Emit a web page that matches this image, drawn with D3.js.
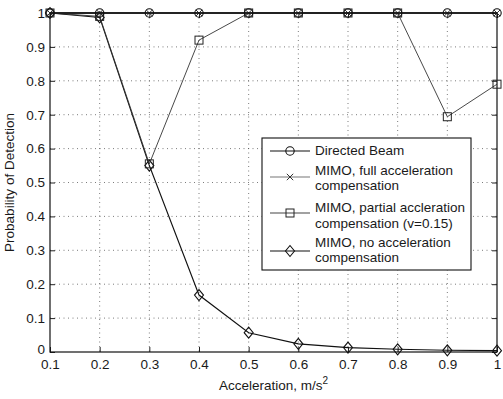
<!DOCTYPE html>
<html><head><meta charset="utf-8">
<script src="https://cdn.jsdelivr.net/npm/d3@7"></script>
<style>
body{margin:0;background:#fff;}
text{font-family:"Liberation Sans",Arial,Helvetica,sans-serif;fill:#1a1a1a;}
</style></head>
<body>
<svg id="chart" width="503" height="399"></svg>
<script>
const accel = [0.1,0.2,0.3,0.4,0.5,0.6,0.7,0.8,0.9,1.0];
const directedBeam = [1,1,1,1,1,1,1,1,1,1];
const mimoFull = [1,1,1,1,1,1,1,1,1,1];
const mimoPartial = [1,0.99,0.555,0.92,1,1,1,1,0.694,0.79];
const mimoNone = [1,0.987,0.55,0.168,0.057,0.024,0.013,0.008,0.005,0.004];
const xTicks = [0.1,0.2,0.3,0.4,0.5,0.6,0.7,0.8,0.9,1];
const yTicks = [0,0.1,0.2,0.3,0.4,0.5,0.6,0.7,0.8,0.9,1];
const legendLabels = [
  ["Directed Beam"],
  ["MIMO, full acceleration","compensation"],
  ["MIMO, partial accleration","compensation (v=0.15)"],
  ["MIMO, no acceleration","compensation"]
];

const svg = d3.select("#chart");
const L=50,R=497,T=13,B=352;
const FS=13.5;
const x = d3.scaleLinear().domain([0.1,1]).range([L,R]);
const y = d3.scaleLinear().domain([0,1]).range([B,T]);

// grid
const g = svg.append("g");
g.selectAll(".vg").data(xTicks.slice(1,-1)).enter().append("line")
  .attr("x1",d=>x(d)).attr("x2",d=>x(d)).attr("y1",T).attr("y2",B)
  .attr("stroke","#444").attr("stroke-width",0.7).attr("stroke-dasharray","1,3.5");
g.selectAll(".hg").data(yTicks.slice(1,-1)).enter().append("line")
  .attr("x1",L).attr("x2",R).attr("y1",d=>y(d)).attr("y2",d=>y(d))
  .attr("stroke","#444").attr("stroke-width",0.7).attr("stroke-dasharray","1,3.5");

// axes
const xAxis = d3.axisBottom(x).tickValues(xTicks).tickSizeInner(-5).tickSizeOuter(0).tickPadding(7).tickFormat(d=>d===1?"1":d3.format(".1f")(d));
const yAxis = d3.axisLeft(y).tickValues(yTicks).tickSizeInner(-5).tickSizeOuter(0).tickPadding(5).tickFormat(d=>(d===0||d===1)?String(d):d3.format(".1f")(d));
const xa = svg.append("g").attr("transform",`translate(0,${B})`).call(xAxis);
const ya = svg.append("g").attr("transform",`translate(${L},0)`).call(yAxis);
const xaTop = svg.append("g").attr("transform",`translate(0,${T})`).call(d3.axisTop(x).tickValues(xTicks).tickSizeInner(-5).tickSizeOuter(0).tickFormat(""));
const yaR = svg.append("g").attr("transform",`translate(${R},0)`).call(d3.axisRight(y).tickValues(yTicks).tickSizeInner(-5).tickSizeOuter(0).tickFormat(""));
[xa,ya,xaTop,yaR].forEach(a=>{a.select(".domain").remove();a.selectAll("line").attr("stroke","#222");});
[xa,ya].forEach(a=>a.selectAll("text").attr("font-size",FS).style("font-family","'Liberation Sans',Arial,sans-serif").attr("fill","#1a1a1a"));
ya.selectAll(".tick").filter(d=>d===0).select("text").attr("dy","0.1em");
svg.append("rect").attr("x",L).attr("y",T).attr("width",R-L).attr("height",B-T)
  .attr("fill","none").attr("stroke","#111").attr("stroke-width",1.2);

// labels
svg.append("text").attr("x",(L+R)/2).attr("y",390).attr("text-anchor","middle").attr("font-size",FS)
  .html('Acceleration, m/s<tspan dy="-6" font-size="10">2</tspan>');
svg.append("text").attr("transform",`translate(14,${(T+B)/2}) rotate(-90)`).attr("text-anchor","middle").attr("font-size",FS)
  .text("Probability of Detection");

// markers
function marker(sel,type,cx,cy){
  if(type==="circle") sel.append("circle").attr("cx",cx).attr("cy",cy).attr("r",4.2).attr("fill","none").attr("stroke","#111").attr("stroke-width",1.1);
  else if(type==="x"){
    const s=3.2;
    sel.append("path").attr("d",`M${cx-s},${cy-s}L${cx+s},${cy+s}M${cx-s},${cy+s}L${cx+s},${cy-s}`).attr("stroke","#333").attr("stroke-width",1);
  } else if(type==="square") sel.append("rect").attr("x",cx-4).attr("y",cy-4).attr("width",8).attr("height",8).attr("fill","none").attr("stroke","#222").attr("stroke-width",1);
  else if(type==="diamond") sel.append("path").attr("d",`M${cx},${cy-5.5}L${cx+4.5},${cy}L${cx},${cy+5.5}L${cx-4.5},${cy}Z`).attr("fill","none").attr("stroke","#111").attr("stroke-width",1.1);
}
const series = [
  {vals:mimoNone,type:"diamond",color:"#111",w:1.1},
  {vals:mimoPartial,type:"square",color:"#333",w:0.9},
  {vals:mimoFull,type:"x",color:"#555",w:1.2},
  {vals:directedBeam,type:"circle",color:"#111",w:1.4}
];
const line = d3.line().x((d,i)=>x(accel[i])).y(d=>y(d));
series.forEach(s=>{
  svg.append("path").attr("d",line(s.vals)).attr("fill","none").attr("stroke",s.color).attr("stroke-width",s.w);
  const mg=svg.append("g");
  s.vals.forEach((v,i)=>marker(mg,s.type,x(accel[i]),y(v)));
});

// legend
const lg = svg.append("g");
lg.append("rect").attr("x",262).attr("y",138).attr("width",209).attr("height",132).attr("fill","#fff").attr("stroke","#111").attr("stroke-width",1.1);
const legTypes=["circle","x","square","diamond"];
const legColors=["#111","#777","#444","#111"];
const lineY=[151,177,213,251];
const textY=[[155],[175,190],[212,228],[247,262]];
legendLabels.forEach((lab,i)=>{
  lg.append("line").attr("x1",270).attr("x2",310).attr("y1",lineY[i]).attr("y2",lineY[i]).attr("stroke",legColors[i]).attr("stroke-width",1.1);
  marker(lg,legTypes[i],290,lineY[i]);
  lab.forEach((t,j)=>lg.append("text").attr("x",315).attr("y",textY[i][j]).attr("font-size",FS).text(t));
});
</script>
</body></html>
